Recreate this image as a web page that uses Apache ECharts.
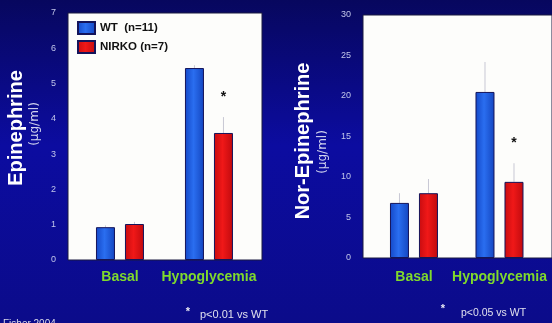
<!DOCTYPE html>
<html><head><meta charset="utf-8">
<script src="https://cdn.jsdelivr.net/npm/echarts@6/dist/echarts.min.js"></script>
<style>html,body{margin:0;padding:0;background:#0b0b80;}#c{width:552px;height:323px;}</style>
</head><body><div id="c"></div>
<script>
var categories = ['Basal', 'Hypoglycemia'];
var seriesNames = ['WT  (n=11)', 'NIRKO (n=7)'];
// Epinephrine (µg/ml)
var epiWT = [0.93, 5.44];
var epiWTErr = [0.05, 0.08];
var epiNIRKO = [1.02, 3.6];
var epiNIRKOErr = [0.06, 0.45];
var epiStar = [null, 4.62];
var epiTicks = [0, 1, 2, 3, 4, 5, 6, 7];
// Nor-Epinephrine (µg/ml)
var norWT = [6.8, 20.5];
var norWTErr = [1.2, 3.7];
var norNIRKO = [8.0, 9.4];
var norNIRKOErr = [1.75, 2.3];
var norStar = [null, 14.2];
var norTicks = [0, 5, 10, 15, 20, 25, 30];

var blue = {type:'linear',x:0,y:0,x2:1,y2:0,colorStops:[{offset:0,color:'#1448c8'},{offset:0.45,color:'#2a6ef0'},{offset:1,color:'#1446c0'}]};
var red = {type:'linear',x:0,y:0,x2:1,y2:0,colorStops:[{offset:0,color:'#c80c10'},{offset:0.45,color:'#f01818'},{offset:1,color:'#c00a0e'}]};
var BAR_W = 19, GAP = 10, HALF = (BAR_W + GAP) / 2;

function pairs(arr){ return arr.map(function(v,i){ return [i, v]; }); }

function errSeries(gi, vals, errs, off){
  return {
    type:'custom', xAxisIndex:gi, yAxisIndex:gi, silent:true, z:1,
    data: vals.map(function(v,i){ return [i, v, v + errs[i]]; }),
    renderItem: function(params, api){
      var p0 = api.coord([api.value(0), api.value(1)]);
      var p1 = api.coord([api.value(0), api.value(2)]);
      var x = p0[0] + off;
      return {type:'line', shape:{x1:x, y1:p0[1], x2:x, y2:p1[1]},
        style:{stroke:'#c8c8d4', lineWidth:1}};
    }
  };
}
function starSeries(gi, vals, off){
  return {
    type:'custom', xAxisIndex:gi, yAxisIndex:gi, silent:true, z:5,
    data: vals.map(function(v,i){ return [i, v]; }).filter(function(d){ return d[1] != null; }),
    renderItem: function(params, api){
      var p = api.coord([api.value(0), api.value(1)]);
      return {type:'text', x:p[0] + off, y:p[1],
        style:{text:'*', fill:'#111', font:'bold 14px Arial, "Liberation Sans"', align:'center', verticalAlign:'middle'}};
    }
  };
}
function barSeries(gi, name, vals, color){
  return {
    type:'bar', name:name, xAxisIndex:gi, yAxisIndex:gi, z:2,
    data: pairs(vals), barWidth:BAR_W, barGap:(GAP/BAR_W*100).toFixed(1)+'%',
    itemStyle:{color:color, borderColor:'#14145a', borderWidth:1}
  };
}

function xAx(gi, min, max, margin){
  return {type:'value', gridIndex:gi, min:min, max:max,
    axisLine:{show:false}, axisTick:{show:false}, splitLine:{show:false},
    axisLabel:{customValues:[0,1], formatter:function(v){ return categories[Math.round(v)]; },
      color:'#80da2c', fontWeight:'bold', fontSize:14, fontFamily:'Arial, "Liberation Sans"', margin:margin}};
}
function yAx(gi, ticks){
  return {type:'value', gridIndex:gi, min:ticks[0], max:ticks[ticks.length-1], interval:ticks[1]-ticks[0],
    axisLine:{show:false}, axisTick:{show:false}, splitLine:{show:false},
    axisLabel:{color:'#c2c6ea', fontSize:9, fontFamily:'Arial, "Liberation Sans"', margin:12}};
}

var chart = echarts.init(document.getElementById('c'), null, {renderer:'canvas'});
chart.setOption({
  animation:false,
  backgroundColor:{type:'linear',x:0,y:0,x2:0,y2:1,colorStops:[{offset:0,color:'#07075e'},{offset:0.45,color:'#0c0ca0'},{offset:1,color:'#0b0b8a'}]},
  grid:[
    {left:68, top:13, width:194, bottom:63, show:true, backgroundColor:'#fdfdfb', borderWidth:1, borderColor:'#1a1a40'},
    {left:363, top:15, right:0, bottom:65, show:true, backgroundColor:'#fdfdfb', borderWidth:1, borderColor:'#1a1a40'}
  ],
  xAxis:[xAx(0, -0.584, 1.596, 10), xAx(1, -0.596, 1.614, 12)],
  yAxis:[yAx(0, epiTicks), yAx(1, norTicks)],
  legend:{
    data:seriesNames, orient:'vertical', left:77, top:21, padding:0, itemWidth:17, itemHeight:12, itemGap:5,
    icon:'rect', selectedMode:false,
    textStyle:{color:'#111', fontWeight:'bold', fontSize:11.5, fontFamily:'Arial, "Liberation Sans"'}
  },
  series:[
    barSeries(0, seriesNames[0], epiWT, blue),
    barSeries(0, seriesNames[1], epiNIRKO, red),
    errSeries(0, epiWT, epiWTErr, -HALF),
    errSeries(0, epiNIRKO, epiNIRKOErr, HALF),
    starSeries(0, epiStar, HALF),
    barSeries(1, seriesNames[0], norWT, blue),
    barSeries(1, seriesNames[1], norNIRKO, red),
    errSeries(1, norWT, norWTErr, -HALF),
    errSeries(1, norNIRKO, norNIRKOErr, HALF),
    starSeries(1, norStar, HALF)
  ],
  graphic:[
    {type:'text', x:16, y:128, rotation:Math.PI/2, style:{text:'Epinephrine', fill:'#ffffff', font:'bold 20px Arial, "Liberation Sans"', align:'center', verticalAlign:'middle'}},
    {type:'text', x:35, y:124, rotation:Math.PI/2, style:{text:'(µg/ml)', fill:'#d0d2ee', font:'12px "DejaVu Sans"', align:'center', verticalAlign:'middle'}},
    {type:'text', x:303, y:141, rotation:Math.PI/2, style:{text:'Nor-Epinephrine', fill:'#ffffff', font:'bold 20px Arial, "Liberation Sans"', align:'center', verticalAlign:'middle'}},
    {type:'text', x:323, y:152, rotation:Math.PI/2, style:{text:'(µg/ml)', fill:'#d0d2ee', font:'12px "DejaVu Sans"', align:'center', verticalAlign:'middle'}},
    {type:'text', x:188, y:312, style:{text:'*', fill:'#e8e8f4', font:'bold 11px Arial, "Liberation Sans"', align:'center', verticalAlign:'middle'}},
    {type:'text', x:200, y:315, style:{text:'p<0.01 vs WT', fill:'#e0e0ee', font:'11px Arial, "Liberation Sans"', align:'left', verticalAlign:'middle'}},
    {type:'text', x:443, y:309, style:{text:'*', fill:'#e8e8f4', font:'bold 11px Arial, "Liberation Sans"', align:'center', verticalAlign:'middle'}},
    {type:'text', x:461, y:313, style:{text:'p<0.05 vs WT', fill:'#e0e0ee', font:'10.5px Arial, "Liberation Sans"', align:'left', verticalAlign:'middle'}},
    {type:'text', x:3, y:319, style:{text:'Fisher 2004', fill:'#d8d8e8', font:'10px Arial, "Liberation Sans"', align:'left', verticalAlign:'top'}}
  ]
});
</script></body></html>
